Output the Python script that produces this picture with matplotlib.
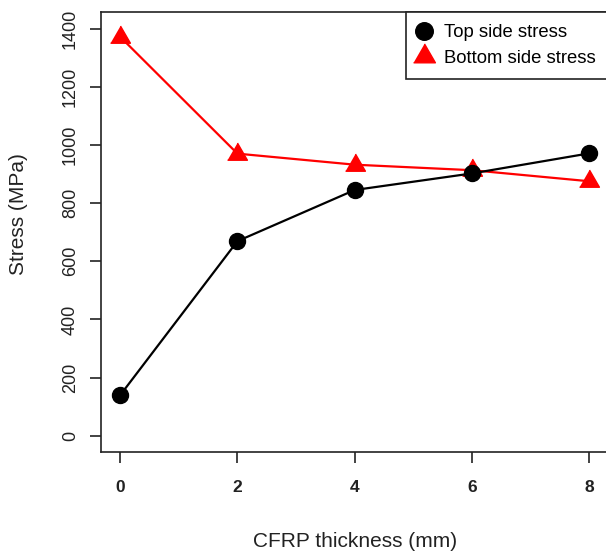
import matplotlib.pyplot as plt
import numpy as np

plt.rcParams['font.family'] = ['Liberation Sans', 'DejaVu Sans']

# CFRP thickness vs stress
thickness = [0, 2, 4, 6, 8]
top_stress = [139, 669, 845, 902, 971]
bottom_stress = [1372, 970, 932, 913, 875]

xticks = [0, 2, 4, 6, 8]
yticks = [0, 200, 400, 600, 800, 1000, 1200, 1400]

# equilateral triangle centred on its centroid (like R's pch 17)
tri = [(-1, -0.5774), (1, -0.5774), (0, 1.1547)]

fig = plt.figure(figsize=(6.06, 5.54), dpi=100)
# right edge of the frame falls just outside the picture
ax = fig.add_axes([0.1672, 0.1841, 1.0035 - 0.1672, 0.9778 - 0.1841])

ax.plot(thickness, bottom_stress, color='#ff0000', lw=1.6, marker=tri, ms=16.5,
        label='Bottom side stress', zorder=3)
ax.plot(thickness, top_stress, color='black', lw=1.6, marker='o', ms=11.5,
        label='Top side stress', zorder=4)

ax.set_xlim(-0.32, 8.32)
ax.set_ylim(-56, 1456)
ax.set_xticks(xticks)
ax.set_yticks(yticks)
ax.tick_params(axis='x', length=8, width=1.2, pad=12, labelsize=12.5,
               color='#222222', labelcolor='#222222')
ax.tick_params(axis='y', length=8, width=1.2, pad=8, labelsize=13,
               color='#222222', labelcolor='#222222', labelrotation=90)
for lab in ax.get_yticklabels():
    lab.set_va('center')
for lab in ax.get_xticklabels():
    lab.set_fontweight('bold')
for sp in ax.spines.values():
    sp.set_linewidth(1.2)
    sp.set_color('#222222')

ax.set_xlabel('CFRP thickness (mm)', fontsize=15, labelpad=27, color='#222222')
ax.set_ylabel('Stress (MPa)', fontsize=15, color='#222222')
ax.yaxis.set_label_coords(-0.145, 0.541)

h, l = ax.get_legend_handles_labels()
leg = ax.legend(h[::-1], l[::-1], loc='upper right', fontsize=13.3, borderaxespad=0,
                fancybox=False, edgecolor='#222222', framealpha=1,
                borderpad=0.65, handlelength=0.6, handletextpad=0.8,
                labelspacing=0.45, markerscale=1.1)
leg.get_frame().set_linewidth(1.2)
for line in leg.get_lines():
    line.set_linestyle('none')

fig.savefig('out.png', dpi=100)
